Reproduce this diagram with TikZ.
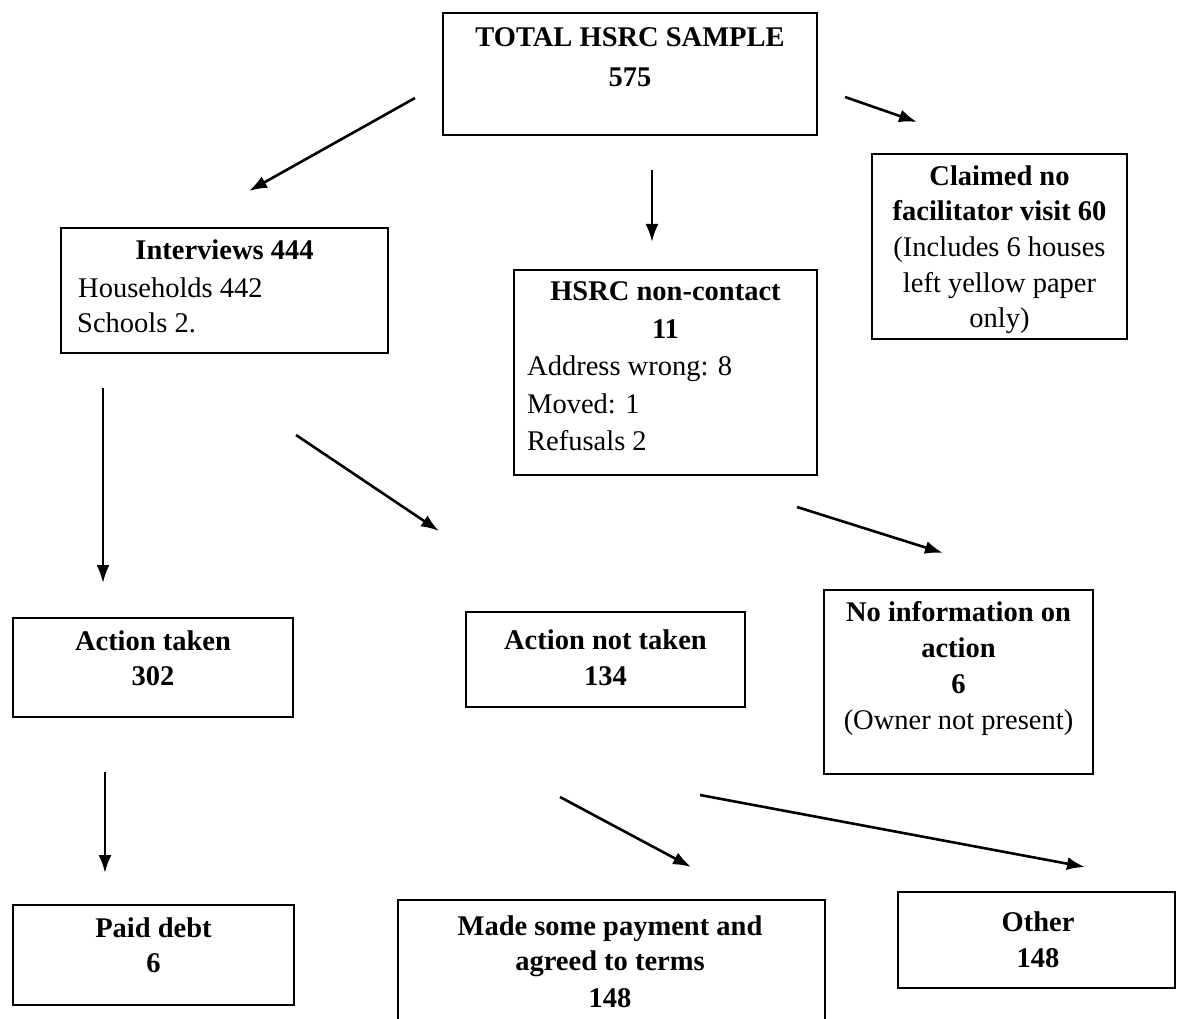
\documentclass[tikz,border=0pt]{standalone}
\usepackage{fontspec}
\setmainfont{Liberation Serif}
\usetikzlibrary{arrows.meta}
\newcommand{\dfont}{\fontsize{28.5}{34}\selectfont}
\tikzset{
  box/.style={draw, line width=1.8pt, rectangle, inner sep=0pt},
  ln/.style={anchor=base, inner sep=0pt, font=\dfont},
  lnb/.style={anchor=base, inner sep=0pt, font=\dfont\bfseries},
  lnl/.style={anchor=base west, inner sep=0pt, font=\dfont},
  arr/.style={line width=2.6pt, -{Latex[length=18pt,width=13pt]}},
}
\begin{document}
\begin{tikzpicture}[x=1pt,y=-1pt]
\useasboundingbox (0,0) rectangle (1178,1019);
% boxes
\node[box, minimum width=374pt, minimum height=122pt] (top) at (630,74) {};
\node[box, minimum width=255pt, minimum height=185pt] (claimed) at (999.5,246.5) {};
\node[box, minimum width=327pt, minimum height=125pt] (interv) at (224.5,290.5) {};
\node[box, minimum width=303pt, minimum height=205pt] (hsrc) at (665.5,372.5) {};
\node[box, minimum width=280pt, minimum height=99pt] (acttaken) at (153,667.5) {};
\node[box, minimum width=279pt, minimum height=95pt] (actnot) at (605.5,659.5) {};
\node[box, minimum width=269pt, minimum height=184pt] (noinfo) at (958.5,682) {};
\node[box, minimum width=281pt, minimum height=100pt] (paid) at (153.5,955) {};
\node[box, minimum width=427pt, minimum height=140pt] (made) at (611.5,970) {};
\node[box, minimum width=277pt, minimum height=96pt] (other) at (1036.5,940) {};
% texts
\node[lnb] (top1) at (630,47) {TOTAL HSRC SAMPLE};
\node[lnb] (top2) at (630,87) {575};
\node[lnb] (cl1) at (999.5,186) {Claimed no};
\node[lnb] (cl2) at (999.5,221) {facilitator visit 60};
\node[ln] (cl3) at (999.5,256.5) {(Includes 6 houses};
\node[ln] (cl4) at (999.5,292) {left yellow paper};
\node[ln] (cl5) at (999.5,327) {only)};
\node[lnb] (in1) at (224.5,259) {Interviews 444};
\node[lnl] (in2) at (78,297) {Households 442};
\node[lnl] (in3) at (77,332) {Schools 2.};
\node[lnb] (hs1) at (665.5,300) {HSRC non-contact};
\node[lnb] (hs2) at (665.5,338) {11};
\node[lnl] (hs3) at (527,375) {Address wrong: 8};
\node[lnl] (hs4) at (527,413) {Moved: 1};
\node[lnl] (hs5) at (527,450) {Refusals 2};
\node[lnb] (at1) at (153,650) {Action taken};
\node[lnb] (at2) at (153,685) {302};
\node[lnb] (an1) at (605.5,649) {Action not taken};
\node[lnb] (an2) at (605.5,685) {134};
\node[lnb] (ni1) at (958.5,621) {No information on};
\node[lnb] (ni2) at (958.5,657) {action};
\node[lnb] (ni3) at (958.5,693) {6};
\node[ln] (ni4) at (958.5,729) {(Owner not present)};
\node[lnb] (pd1) at (153.5,937) {Paid debt};
\node[lnb] (pd2) at (153.5,972) {6};
\node[lnb] (md1) at (610,935) {Made some payment and};
\node[lnb] (md2) at (610,970) {agreed to terms};
\node[lnb] (md3) at (610,1007) {148};
\node[lnb] (ot1) at (1038,931) {Other};
\node[lnb] (ot2) at (1038,967) {148};
% arrow endpoints
\coordinate (a1s) at (415,98);   \coordinate (a1e) at (249,191);
\coordinate (a2s) at (652,170);  \coordinate (a2e) at (652,242);
\coordinate (a3s) at (845,97);   \coordinate (a3e) at (917,122);
\coordinate (a4s) at (103,388);  \coordinate (a4e) at (103,583);
\coordinate (a5s) at (296,435);  \coordinate (a5e) at (439,531);
\coordinate (a6s) at (797,507);  \coordinate (a6e) at (943,553);
\coordinate (a7s) at (105,772);  \coordinate (a7e) at (105,873);
\coordinate (a8s) at (560,797);  \coordinate (a8e) at (691,867);
\coordinate (a9s) at (700,795);  \coordinate (a9e) at (1085,867);
\draw[arr] (a1s) -- (a1e);
\draw[arr] (a2s) -- (a2e);
\draw[arr] (a3s) -- (a3e);
\draw[arr] (a4s) -- (a4e);
\draw[arr] (a5s) -- (a5e);
\draw[arr] (a6s) -- (a6e);
\draw[arr] (a7s) -- (a7e);
\draw[arr] (a8s) -- (a8e);
\draw[arr] (a9s) -- (a9e);
\end{tikzpicture}
\end{document}
